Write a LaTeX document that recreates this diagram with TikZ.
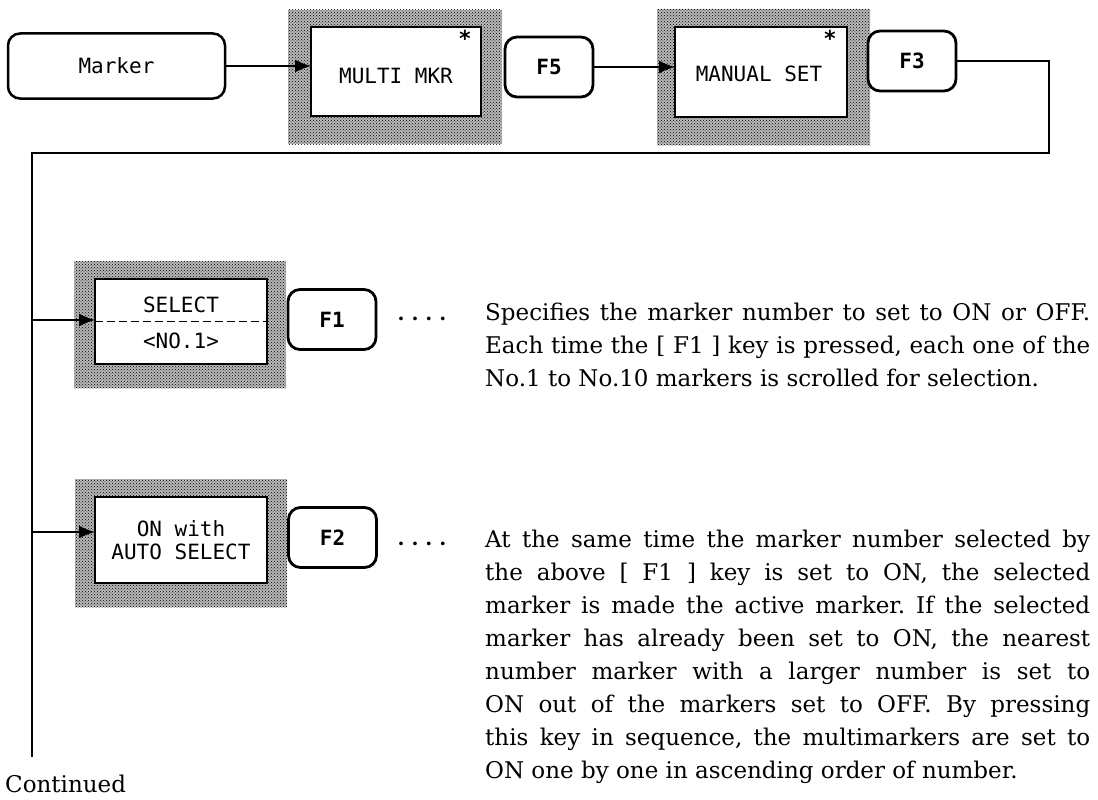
\documentclass[tikz,border=0pt]{standalone}
\usepackage{fontspec}
\newfontfamily\keyfont{DejaVu Sans Mono}
\newfontfamily\bodyfont{DejaVu Serif}
\usetikzlibrary{arrows.meta,positioning,calc,patterns}
\frenchspacing

\begin{document}
\begin{tikzpicture}[x=1pt, y=-1pt, >={Latex[length=16pt,width=13pt]},
    stipple/.style={preaction={fill=black!28}, pattern=crosshatch dots, pattern color=black,
        draw=none, inner sep=0pt, outer sep=0pt},
    panel/.style={draw, fill=white, line width=1.8pt, inner sep=0pt, outer sep=0pt, align=center,
        font=\keyfont\fontsize{21}{23}\selectfont},
    keybox/.style={draw, fill=white, line width=2.8pt, rounded corners=12pt, minimum width=88pt,
        minimum height=60pt, inner sep=0pt, outer sep=0pt, font=\keyfont\bfseries\fontsize{21}{25}\selectfont},
    star/.style={inner sep=0pt, font=\keyfont\bfseries\fontsize{22}{22}\selectfont},
    monotext/.style={inner sep=0pt, font=\keyfont\fontsize{21}{23}\selectfont},
    link/.style={line width=1.6pt},
    dotrow/.style={anchor=base, inner sep=0pt, font=\bodyfont\bfseries\fontsize{20}{33}\selectfont},
    desc/.style={anchor=north west, text width=605pt, align=justify, inner sep=0pt,
        font=\bodyfont\fontsize{23}{33}\selectfont}]
    \useasboundingbox (0,0) rectangle (1098,800);

    % top row of keys and panels
    \node[keybox, line width=2.5pt, minimum width=217pt, minimum height=65pt,
        font=\keyfont\fontsize{21}{25}\selectfont] (marker) at (116.5,66) {Marker};
    \node[stipple, minimum width=214pt, minimum height=134pt] (mkrshade) at (395,77) {};
    \node[panel, minimum width=170pt, minimum height=89pt] (mkr) at (396,71.5) {};
    \node[monotext] (mkrlabel) at (396,76) {MULTI MKR};
    \node[star] (mkrstar) at (465,38) {*};
    \node[keybox] (f5) at (549,67) {F5};
    \node[stipple, minimum width=213pt, minimum height=136pt] (setshade) at (763.5,77) {};
    \node[panel, minimum width=172pt, minimum height=90pt] (set) at (761,72) {};
    \node[monotext] (setlabel) at (759,74) {MANUAL SET};
    \node[star] (setstar) at (830,38) {*};
    \node[keybox] (f3) at (912,61) {F3};

    \draw[link,->] (marker.east) -- (marker.east -| mkr.west);
    \draw[link,->] (f5.east) -- (f5.east -| set.west);

    % feed line down the left side
    \coordinate (turn) at (1049,153);
    \coordinate (bus) at (32,153);
    \coordinate (busend) at (32,757);
    \coordinate (tapA) at (32,320);
    \coordinate (tapB) at (32,532);
    \draw[link] (f3.east) -| (turn) -- (bus) -- (busend);

    % SELECT <NO.1>
    \node[stipple, minimum width=212pt, minimum height=127pt] (selshade) at (180,324.5) {};
    \node[panel, minimum width=172pt, minimum height=85pt] (sel) at (181,321.5) {};
    \draw[dashed, line width=1.6pt, dash pattern=on 8pt off 4pt] (sel.west) -- (sel.east);
    \node[monotext] (seltop) at (181,305) {SELECT};
    \node[monotext] (selno) at (181,341) {<NO.1>};
    \node[keybox] (f1) at (332,319.5) {F1};
    \node[dotrow] (dotsA) at (422,320) {.\ .\ .\ .};
    \draw[link,->] (tapA) -- (tapA -| sel.west);
    \node[desc] (textA) at (485,303) {Specifies the marker number to set to ON or OFF.\linebreak
        Each time the [ F1 ] key is pressed, each one of the\linebreak
        No.1 to No.10 markers is scrolled for selection.};

    % ON with AUTO SELECT
    \node[stipple, minimum width=212pt, minimum height=128pt] (onshade) at (181,543) {};
    \node[panel, minimum width=172pt, minimum height=86pt] (on) at (181,540) {ON with\\AUTO SELECT};
    \node[keybox] (f2) at (332.5,537.5) {F2};
    \node[dotrow] (dotsB) at (422,545) {.\ .\ .\ .};
    \draw[link,->] (tapB) -- (tapB -| on.west);
    \node[desc] (textB) at (485,530) {At the same time the marker number selected by\linebreak
        the above [ F1 ] key is set to ON, the selected\linebreak
        marker is made the active marker. If the selected\linebreak
        marker has already been set to ON, the nearest\linebreak
        number marker with a larger number is set to\linebreak
        ON out of the markers set to OFF. By pressing\linebreak
        this key in sequence, the multimarkers are set to\linebreak
        ON one by one in ascending order of number.};

    \node[anchor=base west, inner sep=0pt, font=\bodyfont\fontsize{23}{33}\selectfont] (cont) at (5,792) {Continued};
\end{tikzpicture}
\end{document}
